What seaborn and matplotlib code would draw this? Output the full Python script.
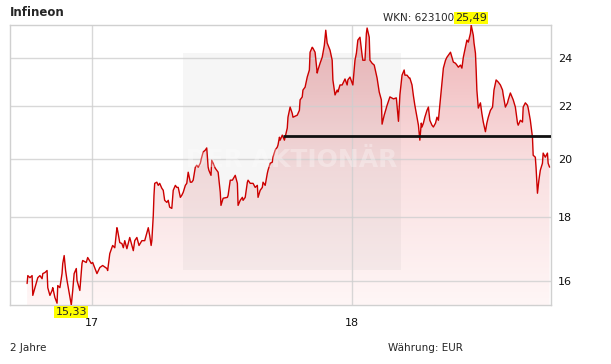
import numpy as np
import pandas as pd
import matplotlib
matplotlib.use("Agg")
import matplotlib.pyplot as plt
import seaborn as sns
from matplotlib.colors import LinearSegmentedColormap
from matplotlib.patches import Rectangle
from matplotlib.ticker import FixedLocator, NullLocator

# ---------------- data ----------------
title = "Infineon"
wkn_text = "WKN: 623100"
period_text = "2 Jahre"
currency_text = "Währung: EUR"
base_date = "2017-01-01"

# day offsets relative to base_date
days = [
    -91, -90, -87, -84, -83, -80, -77, -76, -73, -70,
    -69, -66, -63, -62, -59, -56, -55, -52, -49, -48,
    -45, -42, -41, -39, -37, -35, -32, -29, -27, -25,
    -22, -21, -18, -17, -14, -13, -8, -6, -1, 1,
    7, 11, 15, 21, 22, 25, 28, 29, 32, 35,
    36, 39, 42, 44, 46, 49, 53, 58, 60, 63,
    66, 70, 74, 79, 81, 83, 84, 86, 87, 88,
    91, 93, 95, 98, 100, 102, 105, 107, 109, 112,
    114, 117, 119, 121, 124, 126, 128, 131, 133, 135,
    138, 140, 142, 145, 147, 149, 152, 154, 156, 159,
    161, 163, 164, 167, 168, 170, 173, 175, 177, 180,
    181, 184, 190, 191, 194, 197, 201, 204, 205, 208,
    211, 212, 215, 218, 219, 222, 226, 229, 232, 233,
    236, 239, 240, 243, 246, 247, 250, 253, 254, 257,
    260, 261, 263, 264, 267, 270, 271, 274, 275, 278,
    281, 282, 288, 291, 292, 295, 296, 299, 302, 305,
    306, 309, 310, 313, 316, 317, 320, 323, 326, 328,
    330, 334, 337, 338, 341, 344, 345, 348, 351, 355,
    358, 359, 362, 366, 369, 371, 373, 376, 379, 380,
    383, 385, 386, 389, 390, 393, 396, 400, 403, 406,
    407, 410, 414, 418, 423, 427, 430, 432, 435, 438,
    439, 442, 445, 446, 449, 451, 453, 456, 458, 460,
    462, 463, 465, 467, 470, 472, 474, 477, 479, 482,
    484, 486, 489, 491, 493, 496, 498, 500, 503, 505,
    507, 510, 512, 514, 517, 519, 521, 524, 526, 528,
    531, 532, 535, 536, 538, 539, 540, 542, 545, 547,
    549, 550, 552, 554, 556, 559, 562, 564, 567, 570,
    573, 576, 577, 580, 583, 584, 587, 591, 594, 597,
    598, 601, 604, 605, 608, 611, 612, 615, 618, 619,
    622, 623, 625, 627, 629, 632, 633, 636, 639, 640,
    642,
]

prices = [
    15.94, 16.17, 16.11, 16.17, 15.60, 15.82, 16.03, 16.11, 16.17, 16.08,
    16.23, 16.26, 16.32, 15.82, 15.60, 15.74, 15.82, 15.54, 15.38, 15.88,
    15.82, 16.23, 16.53, 16.77, 16.32, 16.03, 15.68, 15.33, 15.74, 16.23,
    16.38, 16.03, 15.82, 15.74, 16.53, 16.62, 16.56, 16.71, 16.53, 16.56,
    16.23, 16.41, 16.47, 16.38, 16.32, 16.83, 17.01, 17.08, 17.01, 17.64,
    17.55, 17.17, 17.14, 17.01, 17.23, 16.98, 17.33, 16.92, 17.23, 17.33,
    17.08, 17.23, 17.23, 17.64, 17.39, 17.08, 17.23, 18.03, 18.71, 19.12,
    19.16, 19.05, 19.12, 18.95, 18.88, 18.54, 18.47, 18.54, 18.31, 18.27,
    18.88, 19.05, 18.98, 18.98, 18.64, 18.71, 18.81, 19.05, 19.12, 19.51,
    19.16, 19.16, 19.23, 19.69, 19.76, 19.69, 19.83, 20.05, 20.24, 20.31,
    20.39, 19.69, 19.58, 19.40, 19.94, 19.83, 19.65, 19.58, 19.51, 18.81,
    18.37, 18.61, 18.64, 18.71, 19.23, 19.23, 19.40, 19.12, 18.37, 18.54,
    18.64, 18.54, 18.64, 19.16, 19.23, 19.12, 19.12, 18.98, 19.05, 18.64,
    18.88, 18.98, 19.16, 19.05, 19.47, 19.58, 19.83, 19.87, 20.05, 20.31,
    20.42, 20.50, 20.79, 20.68, 20.87, 20.68, 20.79, 21.14, 21.56, 21.96,
    21.71, 21.56, 21.64, 21.83, 22.25, 22.37, 22.65, 22.77, 23.19, 23.49,
    24.26, 24.48, 24.44, 24.26, 23.36, 23.49, 23.78, 24.04, 24.57, 25.25,
    24.67, 24.35, 23.91, 23.07, 22.45, 22.65, 22.57, 22.86, 22.86, 23.11,
    22.86, 23.07, 23.19, 22.86, 23.91, 24.22, 24.80, 24.93, 24.13, 23.91,
    23.91, 25.11, 25.35, 24.93, 23.91, 23.78, 23.70, 23.15, 22.57, 22.25,
    21.29, 21.64, 22.03, 22.37, 22.29, 22.33, 21.40, 22.45, 23.27, 23.49,
    23.27, 23.27, 23.15, 23.15, 22.86, 22.41, 22.03, 21.56, 21.25, 20.68,
    21.33, 21.18, 21.33, 21.56, 21.83, 21.96, 21.44, 21.25, 21.18, 21.33,
    21.56, 21.44, 22.33, 22.98, 23.57, 23.91, 24.04, 24.13, 24.26, 24.04,
    23.83, 23.78, 23.70, 23.61, 23.70, 23.57, 24.04, 24.48, 24.80, 24.71,
    25.11, 25.49, 25.02, 24.67, 24.22, 23.49, 22.65, 21.92, 22.13, 21.71,
    21.37, 21.25, 21.00, 21.33, 21.56, 21.83, 21.96, 22.65, 23.07, 22.98,
    22.86, 22.65, 22.45, 21.96, 22.13, 22.25, 22.53, 22.25, 21.96, 21.33,
    21.25, 21.44, 21.37, 21.96, 22.13, 22.03, 21.92, 21.44, 20.79, 20.12,
    20.05, 19.69, 18.78, 19.23, 19.58, 19.83, 20.20, 20.05, 20.20, 19.83,
    19.69,
]

ref_level = 20.84        # horizontal reference line
ref_start_day = 268
yticks = [16, 18, 20, 22, 24]
ytick_labels = ["16", "18", "20", "22", "24"]
xtick_dates = ["2017-01-01", "2018-01-01"]
xtick_labels = ["17", "18"]
xlim_days = (-115, 644)

# ---------------- figure ----------------
sns.set_style("white")
plt.rcParams["font.family"] = ["DejaVu Sans"]

base = pd.Timestamp(base_date)
df = pd.DataFrame({"date": base + pd.to_timedelta(days, unit="D"), "price": prices})

W, H = 611, 364
fig = plt.figure(figsize=(W / 100, H / 100), dpi=100)
fig.patch.set_facecolor("white")
ax = fig.add_axes([10 / W, 1 - 305 / H, 541 / W, 280 / H])
ax.set_facecolor("white")
ax.set_yscale("log")

ymin, ymax = df.price.min(), df.price.max()
xmin = base + pd.Timedelta(days=xlim_days[0])
xmax = base + pd.Timedelta(days=xlim_days[1])

# gradient area fill
poly = ax.fill_between(df.date, df.price, ymin, facecolor="none", lw=0)
cmap = LinearSegmentedColormap.from_list("g", ["#fff6f6", "#f9dfe0", "#efb3b6"])
grad = np.linspace(0, 1, 256).reshape(-1, 1)
im = ax.imshow(grad, aspect="auto", cmap=cmap, extent=[0, 1, 0, 1],
               transform=ax.transAxes, origin="lower", zorder=1)
im.set_clip_path(poly.get_paths()[0], transform=ax.transData)

# price line
sns.lineplot(data=df, x="date", y="price", color="#cc0000", lw=1.0,
             ax=ax, estimator=None, zorder=4)

# reference line
ax.hlines(ref_level, base + pd.Timedelta(days=ref_start_day), xmax,
          color="#111111", lw=2.0, zorder=5)

ax.set_xlim(xmin, xmax)
ax.set_ylim(ymin, ymax)

# watermark
ax.add_patch(Rectangle((183 / W, 1 - 270 / H), 218 / W, 217 / H,
                       transform=fig.transFigure, facecolor="#808080",
                       alpha=0.07, lw=0, zorder=2))
fig.text(292 / W, 1 - 160 / H, "DER AKTIONÄR", fontsize=18, fontweight="bold",
         color="white", alpha=0.3, ha="center", va="center", zorder=3)

# axes styling
ax.yaxis.set_major_locator(FixedLocator(yticks))
ax.yaxis.set_minor_locator(NullLocator())
ax.set_yticklabels(ytick_labels)
ax.yaxis.tick_right()
ax.set_xticks([pd.Timestamp(d) for d in xtick_dates])
ax.set_xticklabels(xtick_labels)
ax.xaxis.set_minor_locator(NullLocator())
ax.tick_params(axis="y", length=0, pad=5, labelsize=8, colors="#111111")
ax.tick_params(axis="x", length=0, pad=9, labelsize=8, colors="#111111")
ax.set_axisbelow(False)
ax.grid(True, color="#cfcfcf", lw=1.0, alpha=0.8)
for s in ax.spines.values():
    s.set_color("#d0d0d0")
    s.set_linewidth(1.0)
ax.set_xlabel("")
ax.set_ylabel("")

# high / low labels
imax = int(df.price.idxmax())
imin = int(df.price.idxmin())
fmt = lambda v: f"{v:.2f}".replace(".", ",")
box = dict(boxstyle="square,pad=0.12", fc="#ffff00", ec="none")
ax.annotate(fmt(df.price[imax]), xy=(df.date[imax], df.price[imax]),
            xytext=(0, 1.5), textcoords="offset points", ha="center", va="bottom",
            fontsize=8, bbox=box, zorder=10, annotation_clip=False)
ax.annotate(fmt(df.price[imin]), xy=(df.date[imin], df.price[imin]),
            xytext=(0, -1.5), textcoords="offset points", ha="center", va="top",
            fontsize=8, bbox=box, zorder=10, annotation_clip=False)

# header / footer texts
fig.text(10 / W, 1 - 13 / H, title, fontsize=8.5, fontweight="bold", va="center", ha="left")
fig.text(383 / W, 1 - 18 / H, wkn_text, fontsize=7.5, va="center", ha="left", zorder=1)
fig.text(10 / W, 1 - 348 / H, period_text, fontsize=7.5, va="center", ha="left")
fig.text(388 / W, 1 - 348 / H, currency_text, fontsize=7.5, va="center", ha="left")

fig.savefig("out.png", dpi=100)
